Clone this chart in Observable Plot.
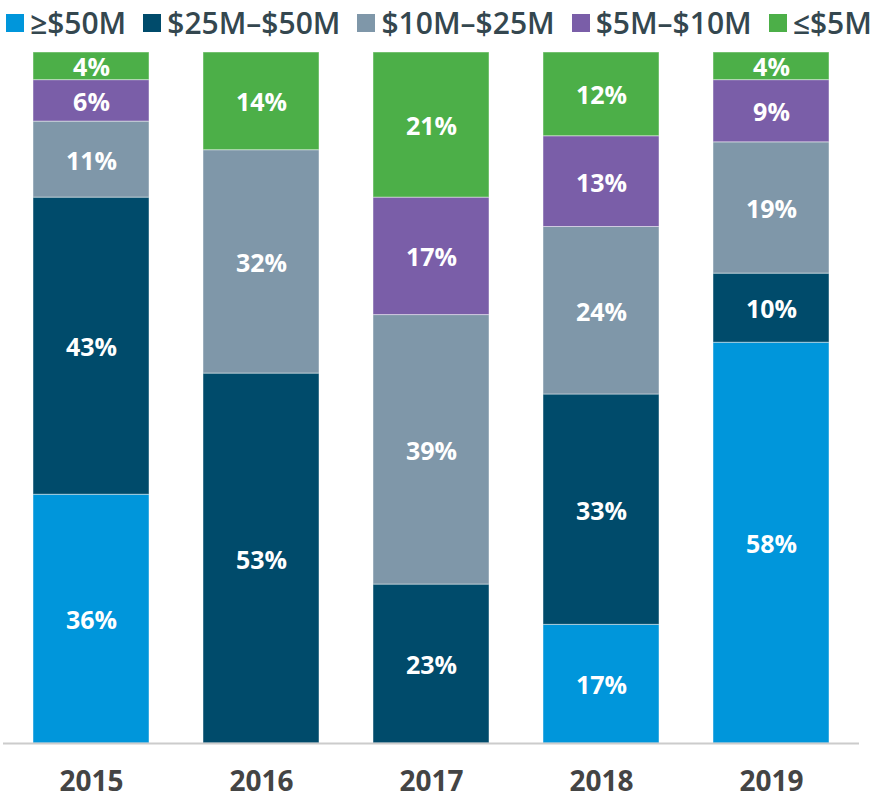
<!DOCTYPE html>
<html>
<head>
<meta charset="utf-8">
<script src="https://cdn.jsdelivr.net/npm/d3@7"></script>
<script src="https://cdn.jsdelivr.net/npm/@observablehq/plot@0.6"></script>
<style>
  body { margin: 0; background: #fff; font-family: "Open Sans", sans-serif; overflow: hidden; }
  #legend { display: flex; align-items: center; height: 45px; padding-left: 6px; padding-bottom: 0px; box-sizing: border-box;
    font-family: "Open Sans", sans-serif; font-weight: 600; font-size: 30px; color: #34474f; white-space: nowrap; }
  .item { display: flex; align-items: center; margin-right: 17px; }
  .sw { width: 18px; height: 18px; margin-right: 6px; }
  #chart svg { display: block; }
</style>
</head>
<body>
<div id="legend"></div>
<div id="chart"></div>
<script>
const years = ["2015", "2016", "2017", "2018", "2019"];
const series = ["≥$50M", "$25M–$50M", "$10M–$25M", "$5M–$10M", "≤$5M"];
const colors = ["#0096DB", "#004B6B", "#7F97A9", "#7A5EA8", "#4CAF48"];
const v50 = [36, 0, 0, 17, 58];
const v25 = [43, 53, 23, 33, 10];
const v10 = [11, 32, 39, 24, 19];
const v5 = [6, 0, 17, 13, 9];
const vLow = [4, 14, 21, 12, 4];

const valuesBySeries = [v50, v25, v10, v5, vLow];
const data = [];
series.forEach((s, si) => years.forEach((y, yi) => {
  const v = valuesBySeries[si][yi];
  if (v > 0) data.push({year: y, series: s, value: v});
}));

const legend = document.getElementById("legend");
series.forEach((s, i) => {
  const it = document.createElement("div");
  it.className = "item";
  it.innerHTML = `<span class="sw" style="background:${colors[i]}"></span><span>${s}</span>`;
  legend.appendChild(it);
});

const stackOpts = {x: "year", y: "value", z: "series", order: series, offset: "normalize"};

const chart = Plot.plot({
  width: 888,
  height: 756,
  marginTop: 7,
  marginBottom: 58,
  marginLeft: 3,
  marginRight: 29,
  x: {domain: years, paddingInner: 0.316, paddingOuter: 0.164, label: null},
  y: {axis: null, domain: [0, 1]},
  color: {domain: series, range: colors},
  style: {fontFamily: "Open Sans, sans-serif"},
  marks: [
    Plot.barY(data, Plot.stackY({...stackOpts, fill: "series", stroke: "#ffffff", strokeOpacity: 0.45, strokeWidth: 1})),
    Plot.text(data, Plot.stackY({...stackOpts, text: d => d.value + "%", fill: "white", fontSize: 25, fontWeight: 700, dy: 2})),
    Plot.ruleY([0], {stroke: "#cccccc", strokeWidth: 2}),
    Plot.axisX({tickSize: 0, tickPadding: 28, fontSize: 28, fontWeight: 700, fill: "#444444", label: null})
  ]
});
document.getElementById("chart").appendChild(chart);
</script>
</body>
</html>
